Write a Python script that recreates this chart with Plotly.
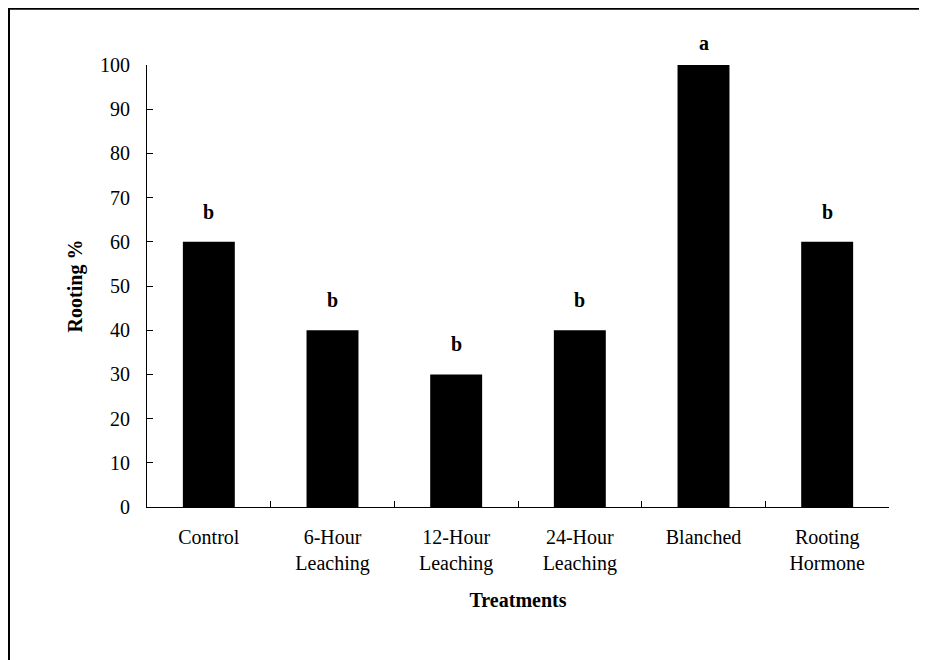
import plotly.graph_objects as go

categories = ["Control", "6-Hour<br>Leaching", "12-Hour<br>Leaching", "24-Hour<br>Leaching",
              "Blanched", "Rooting<br>Hormone"]
rooting_pct = [60, 40, 30, 40, 100, 60]
letters = ["b", "b", "b", "b", "a", "b"]
y_ticks = list(range(0, 101, 10))

FONT = "Liberation Serif, Times New Roman, serif"

fig = go.Figure()
fig.add_trace(go.Bar(
    x=categories, y=rooting_pct, width=0.42,
    marker=dict(color="black", line=dict(width=0)),
    showlegend=False,
))

for cat, val, let in zip(categories, rooting_pct, letters):
    fig.add_annotation(
        x=cat, y=val, xref="x", yref="y", text="<b>%s</b>" % let,
        showarrow=False, yanchor="bottom",
        yshift=17 if val < 100 else 9,
        font=dict(family=FONT, size=20, color="black"),
    )

# plot-area geometry in figure pixels (page body adds an 8px offset)
FW, FH = 927, 660
L, R, T, B = 139, 46, 57, 161
W = FW - L - R
H = FH - T - B

def px_x(px):
    return (px - L) / W

def px_y(py):
    return (FH - B - py) / H

# outer frame (left and top edges visible)
fig.add_shape(type="line", xref="paper", yref="paper",
              x0=px_x(0.5), x1=px_x(0.5), y0=px_y(0), y1=px_y(700),
              line=dict(color="black", width=3))
fig.add_shape(type="line", xref="paper", yref="paper",
              x0=px_x(0), x1=px_x(960), y0=px_y(0.2), y1=px_y(0.2),
              line=dict(color="black", width=3))

fig.update_layout(
    width=FW, height=FH,
    margin=dict(l=L, r=R, t=T, b=B),
    paper_bgcolor="white", plot_bgcolor="white",
    font=dict(family=FONT, size=20, color="black"),
    bargap=0.58,
    xaxis=dict(
        type="category",
        showline=True, linecolor="black", linewidth=1,
        ticks="inside", tickson="boundaries", ticklen=6, tickcolor="black",
        ticklabelstandoff=12,
        showgrid=False, zeroline=False,
        title=dict(text="<b>Treatments</b>", standoff=18,
                   font=dict(family=FONT, size=20)),
    ),
    yaxis=dict(
        range=[0, 100], tickvals=y_ticks, ticktext=[str(v) for v in y_ticks],
        showline=True, linecolor="black", linewidth=1,
        ticks="inside", ticklen=6, tickcolor="black",
        ticklabelstandoff=12,
        showgrid=False, zeroline=False,
        title=dict(text="<b>Rooting %</b>", standoff=12,
                   font=dict(family=FONT, size=20)),
    ),
)

fig.write_html("out.html")
